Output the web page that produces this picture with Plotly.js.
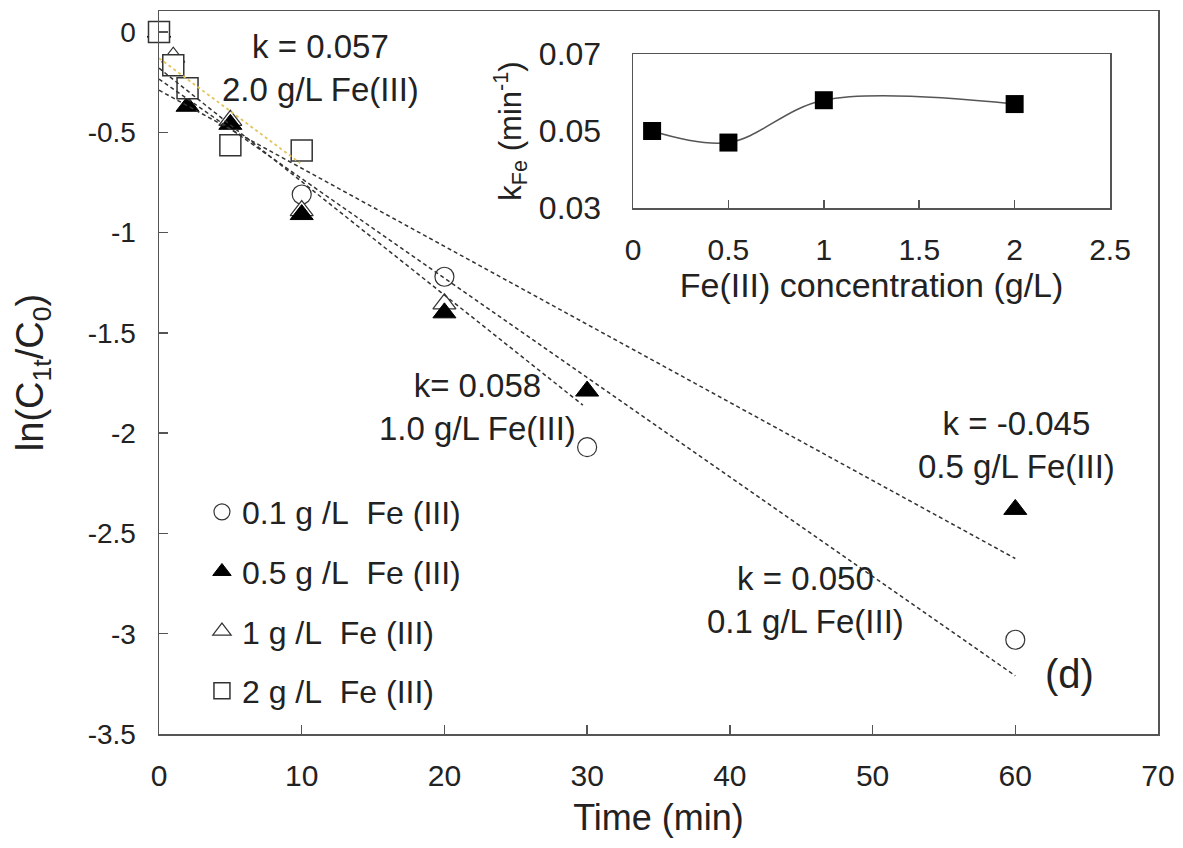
<!DOCTYPE html>
<html>
<head>
<meta charset="utf-8">
<script src="https://cdn.plot.ly/plotly-3.0.1.min.js"></script>
<style>html,body{margin:0;padding:0;background:#fff;}</style>
</head>
<body>
<div id="chart" style="width:1183px;height:848px;"></div>
<script>
// ---- main plot data: ln(C1t/C0) vs time (min) ----
const time01 = [0, 10, 20, 30, 60];
const ln01 = [0, -0.81, -1.22, -2.07, -3.03];

const time05 = [0, 2, 5, 10, 20, 30, 60];
const ln05 = [0, -0.37, -0.46, -0.91, -1.40, -1.79, -2.38];

const time10 = [0, 1, 5, 10, 20];
const ln10 = [0, -0.125, -0.44, -0.89, -1.355];

const time20 = [0, 1, 2, 5, 10];
const ln20 = [0, -0.165, -0.28, -0.565, -0.59];

// linear fit lines (endpoints)
const fit01X = [0, 60];
const fit01Y = [-0.235, -3.21];
const fit05X = [0, 60];
const fit05Y = [-0.29, -2.625];
const fit10X = [0, 29.7];
const fit10Y = [-0.18, -1.86];
const fit20X = [0, 9.9];
const fit20Y = [-0.13, -0.654];

const legendNames = ["0.1 g /L\u00a0\u00a0Fe (III)", "0.5 g /L\u00a0\u00a0Fe (III)", "1 g /L\u00a0\u00a0Fe (III)", "2 g /L\u00a0\u00a0Fe (III)"];

// ---- inset data: k_Fe vs Fe(III) concentration ----
const feConc = [0.1, 0.5, 1, 2];
const kFe = [0.050, 0.047, 0.058, 0.057];

// ---- tick labels ----
const yTickVals = [0, -0.5, -1, -1.5, -2, -2.5, -3, -3.5];
const yTickText = ["0", "-0.5", "-1", "-1.5", "-2", "-2.5", "-3", "-3.5"];
const y2TickVals = [0.03, 0.05, 0.07];
const y2TickText = ["0.03", "0.05", "0.07"];

// ---- annotation texts ----
const annTexts = ["k = 0.057<br>2.0 g/L Fe(III)", "k= 0.058<br>1.0 g/L Fe(III)", "k = -0.045<br>0.5 g/L Fe(III)", "k = 0.050<br>0.1 g/L Fe(III)", "(d)"];
const annX = [11.35, 22.3, 60.1, 45.3, 63.8];
const annY = [-0.18, -1.87, -2.06, -2.83, -3.2];

const FONT = "Liberation Sans";
const INK = "#222";
const AX = "#555";

const traces = [
  {x: time01, y: ln01, mode: "markers", name: legendNames[0], legendgroup: "a", legendrank: 1, cliponaxis: false,
   marker: {symbol: "circle", size: 19, color: "white", line: {color: "#333", width: 1.2}}},
  {x: time10, y: ln10, mode: "markers", name: legendNames[2], legendgroup: "c", legendrank: 3, cliponaxis: false,
   marker: {symbol: "triangle-up", size: 20, color: "white", line: {color: "#333", width: 1.2}}},
  {x: time05, y: ln05, mode: "markers", name: legendNames[1], legendgroup: "b", legendrank: 2, cliponaxis: false,
   marker: {symbol: "triangle-up", size: 20, color: "black", line: {color: "black", width: 1}}},
  {x: time20, y: ln20, mode: "markers", name: legendNames[3], legendgroup: "d", legendrank: 4, cliponaxis: false,
   marker: {symbol: "square", size: 21, color: "white", line: {color: "#333", width: 1.5}}},
  {x: fit01X, y: fit01Y, mode: "lines", showlegend: false, line: {color: "#333", width: 1.5, dash: "4px,3px"}},
  {x: fit05X, y: fit05Y, mode: "lines", showlegend: false, line: {color: "#333", width: 1.5, dash: "4px,3px"}},
  {x: fit10X, y: fit10Y, mode: "lines", showlegend: false, line: {color: "#333", width: 1.5, dash: "4px,3px"}},
  {x: fit20X, y: fit20Y, mode: "lines", showlegend: false, line: {color: "#e3c45a", width: 1.8, dash: "dot"}},
  {x: feConc, y: kFe, xaxis: "x2", yaxis: "y2", mode: "lines+markers", showlegend: false, cliponaxis: false,
   line: {shape: "spline", smoothing: 1, color: "#555", width: 1.5},
   marker: {symbol: "square", size: 18, color: "black"}}
];

const annotations = annTexts.map((t, i) => ({
  x: annX[i], y: annY[i], xref: "x", yref: "y", text: t, showarrow: false,
  align: "center", font: {family: FONT, size: i === 4 ? 40 : 33, color: INK}
}));

const layout = {
  width: 1183, height: 848,
  margin: {l: 159, r: 25, t: 11, b: 114},
  paper_bgcolor: "white", plot_bgcolor: "white",
  font: {family: FONT, color: INK},
  showlegend: true,
  legend: {x: 0.043, y: 0.345, xanchor: "left", yanchor: "top", font: {family: FONT, size: 32, color: INK},
           bgcolor: "rgba(0,0,0,0)", tracegroupgap: 15, itemsizing: "trace", itemwidth: 30},
  xaxis: {range: [0, 70], dtick: 10, tick0: 0, ticks: "inside", ticklen: 9, tickcolor: AX, tickwidth: 1.5,
          showline: true, linecolor: AX, linewidth: 1.5, mirror: true, showgrid: false, zeroline: false,
          tickfont: {family: FONT, size: 30, color: INK}, ticklabelstandoff: 14,
          title: {text: "Time (min)", font: {family: FONT, size: 36, color: INK}, standoff: 14}},
  yaxis: {range: [-3.5, 0.105], tickvals: yTickVals, ticktext: yTickText, ticks: "inside", ticklen: 9,
          tickcolor: AX, tickwidth: 1.5, showline: true, linecolor: AX, linewidth: 1.5, mirror: true,
          showgrid: false, zeroline: false, tickfont: {family: FONT, size: 28, color: INK}, ticklabelstandoff: 16,
          title: {text: "ln(C<sub>1t</sub>/C<sub>0</sub>)", font: {family: FONT, size: 38, color: INK}, standoff: 32}},
  xaxis2: {domain: [0.4745, 0.952], anchor: "y2", range: [0, 2.5], dtick: 0.5, tick0: 0, ticks: "inside",
           ticklen: 8, tickcolor: AX, tickwidth: 1.5, showline: true, linecolor: AX, linewidth: 1.5, mirror: true,
           showgrid: false, zeroline: false, tickfont: {family: FONT, size: 30, color: INK}, ticklabelstandoff: 14,
           title: {text: "Fe(III) concentration (g/L)", font: {family: FONT, size: 34, color: INK}, standoff: 6}},
  yaxis2: {domain: [0.7275, 0.9405], anchor: "x2", range: [0.03, 0.07], tickvals: y2TickVals, ticktext: y2TickText,
           ticks: "", showline: true, linecolor: AX, linewidth: 1.5, mirror: true, showgrid: false, zeroline: false,
           tickfont: {family: FONT, size: 32, color: INK}, ticklabelstandoff: 24,
           title: {text: "k<sub>Fe</sub> (min<sup>-1</sup>)", font: {family: FONT, size: 31, color: INK}, standoff: 8}},
  annotations: annotations
};

Plotly.newPlot("chart", traces, layout, {staticPlot: true, displayModeBar: false});
</script>
</body>
</html>
